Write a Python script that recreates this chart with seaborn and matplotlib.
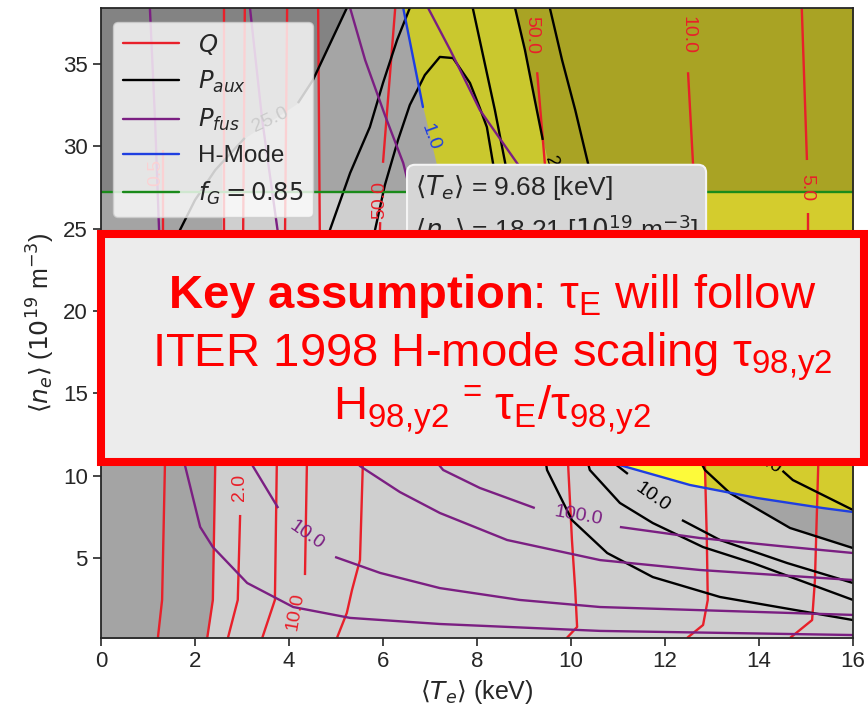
import numpy as np
import matplotlib
matplotlib.use("Agg")
import matplotlib.pyplot as plt
import seaborn as sns
from matplotlib.lines import Line2D
from matplotlib.patches import Rectangle

sns.set_theme(style="ticks")
plt.rcParams["font.family"] = ["Liberation Sans", "DejaVu Sans"]
plt.rcParams["mathtext.fontset"] = "dejavusans"
plt.rcParams["mathtext.rm"] = "Liberation Sans"
plt.rcParams["mathtext.it"] = "Liberation Sans:italic"
plt.rcParams["mathtext.bf"] = "Liberation Sans:bold"

# ---------------- operating point and limits ----------------
te_op = 9.68          # keV
ne_op = 18.21         # 1e19 m^-3
f_G = 0.85
n_greenwald_085 = 27.2  # density of the f_G = 0.85 line

# ---------------- contour polylines (T_e [keV], n_e [1e19 m^-3]) ----------------
q_lines = [
    ([2.62, 2.62], [38.4, 23.0]),
    ([3.06, 3.02], [38.4, 23.0]),
    ([3.96, 3.91], [38.4, 23.0]),
    ([4.62, 4.66], [38.4, 23.0]),
    ([1.32, 1.32], [29.8, 23.0]),
    ([6.26, 6.00], [38.4, 29.0]),
    ([5.94, 5.89], [25.4, 20.7]),
    ([9.28, 9.45, 9.55], [34.5, 28.75, 23.0]),
    ([12.49, 12.60, 12.64], [34.5, 28.75, 23.0]),
    ([14.91, 15.02], [38.4, 29.17]),
    ([15.04, 15.04], [25.95, 20.7]),
    ([1.38, 1.36, 1.30, 1.21], [12.0, 10.6, 2.46, 0.15]),
    ([2.45, 2.43, 2.38, 2.26], [12.0, 10.6, 2.46, 0.15]),
    ([2.96, 2.91, 2.70], [7.62, 2.46, 0.15]),
    ([3.76, 3.74, 3.70, 3.43], [12.0, 10.6, 2.46, 0.15]),
    ([4.38, 4.38, 4.34], [12.0, 10.6, 3.97]),
    ([5.60, 5.57, 5.51, 5.34, 5.23, 5.02], [12.0, 10.6, 4.88, 3.06, 1.67, 0.15]),
    ([9.92, 9.94, 10.02, 10.09, 10.13, 9.91], [12.0, 10.6, 6.10, 3.06, 0.82, 0.15]),
    ([12.84, 12.85, 12.89, 12.91, 12.81, 12.47], [12.0, 10.6, 6.10, 2.46, 0.94, 0.15]),
    ([15.28, 15.26, 15.19, 15.13, 14.66], [12.0, 10.6, 3.67, 1.24, 0.15]),
]
q_labels = [
    (5.94, 26.74, "50.0", 90), (9.17, 36.76, "50.0", -90), (12.49, 36.76, "10.0", -90),
    (15.02, 27.47, "5.0", -90), (2.94, 9.32, "2.0", 90), (4.13, 1.73, "10.0", 80),
    (1.17, 28.4, "0.5", 90),
]

paux_lines = [
    ([5.23, 4.51, 4.19], [38.4, 34.03, 32.63]),
    ([3.06, 2.43, 2.00, 1.68, 1.50], [30.51, 28.56, 26.74, 24.92, 23.0]),
    ([6.57, 6.30, 6.00, 5.72, 5.30, 4.87, 4.70], [38.4, 36.46, 33.85, 31.17, 28.38, 24.92, 23.5]),
    ([5.70, 5.83, 6.04, 6.32, 6.57, 6.89, 7.21, 7.49, 7.85, 8.06, 8.21, 8.34, 8.43, 8.50],
     [23.5, 24.92, 27.65, 30.39, 32.51, 34.33, 35.43, 35.36, 33.85, 32.33, 31.17, 28.99, 27.17, 25.0]),
    ([7.91, 8.15, 8.38, 8.60, 8.75], [38.4, 35.24, 32.21, 28.99, 26.0]),
    ([8.81, 9.02, 9.23, 9.40], [38.4, 35.85, 32.81, 30.39]),
    ([9.55, 9.81, 10.09, 10.36, 10.51, 10.62], [38.4, 35.24, 32.21, 28.99, 27.17, 24.92]),
    ([9.40, 9.49, 10.02, 10.77, 11.74, 13.17, 16.0], [12.0, 10.35, 7.31, 5.31, 3.85, 2.64, 1.24]),
    ([10.25, 10.40, 11.04, 11.74, 12.81, 13.87, 16.0], [12.0, 10.35, 8.35, 7.13, 5.67, 4.70, 2.46]),
    ([10.60, 10.83, 11.21], [12.0, 10.96, 10.11]),
    ([12.36, 13.17, 14.60, 16.0], [7.31, 6.10, 4.70, 3.49]),
    ([12.55, 12.85, 13.38, 14.66, 16.0], [12.0, 10.35, 8.95, 6.83, 5.61]),
    ([14.50, 14.72, 15.36, 16.0], [10.3, 9.74, 8.83, 7.92]),
]
paux_labels = [
    (3.60, 31.6, "25.0", 25), (9.66, 28.26, "20.0", -72),
    (11.74, 8.71, "10.0", -35), (14.19, 10.77, "5.0", -30),
]

pfus_lines = [
    ([5.30, 5.62, 6.04, 6.43, 6.79], [38.4, 35.24, 31.90, 28.99, 24.92]),
    ([6.96, 7.43, 8.06, 8.85, 9.34, 9.80], [38.4, 35.85, 32.21, 28.99, 27.17, 24.5]),
    ([1.04, 1.15, 1.26], [38.4, 31.6, 23.0]),
    ([3.17, 3.43, 3.85], [38.4, 31.6, 23.0]),
    ([1.65, 1.79, 2.11, 2.38, 3.11, 4.09, 5.30, 7.21, 10.62, 16.0],
     [12.0, 10.59, 6.89, 5.67, 3.49, 2.03, 1.37, 1.00, 0.58, 0.33]),
    ([3.00, 3.23, 3.77], [12.0, 10.59, 8.04]),
    ([4.98, 5.94, 7.21, 8.91, 10.62, 16.0], [5.07, 4.10, 3.18, 2.46, 2.03, 1.55]),
    ([5.10, 5.51, 6.36, 7.21, 8.64, 10.62, 12.74, 16.0], [12.0, 10.59, 9.01, 7.74, 6.10, 4.88, 4.28, 3.67]),
    ([6.80, 7.28, 8.06, 9.23], [12.0, 10.35, 9.26, 8.04]),
    ([11.04, 12.74, 14.45, 16.0], [6.89, 6.22, 5.73, 5.31]),
]
pfus_labels = [(4.38, 6.40, "10.0", -35), (10.15, 7.56, "100.0", -10)]

# H-mode threshold (P_aux / P_LH = 1), upper and lower branches, ordered by rising density
hmode_top_T = [7.70, 7.47, 7.32, 7.15, 6.85, 6.43, 6.38]
hmode_top_n = [20.0, 24.32, 26.74, 28.75, 32.39, 38.4, 39.0]
hmode_bot_T = [16.5, 16.0, 15.36, 13.96, 12.53, 11.11, 10.60]
hmode_bot_n = [7.62, 7.80, 8.04, 8.65, 9.44, 10.59, 11.0]
hmode_label = (7.00, 30.57, "1.0", -70)

# shading edges
dark_edge_T = [2.26, 2.38, 2.43, 2.57, 2.57, 3.06, 4.19, 4.51, 5.23, 5.30]
dark_edge_n = [0.15, 2.46, 10.59, 24.92, 29.17, 30.51, 32.63, 34.03, 38.4, 39.0]
divide_top_T = [9.98, 9.77, 9.60, 9.40, 9.23, 9.02, 8.81, 8.79]
divide_top_n = [20.67, 24.92, 27.95, 30.39, 32.81, 35.85, 38.4, 39.0]
divide_bot_T = [12.47, 12.81, 12.91, 12.89, 12.85, 12.83]
divide_bot_n = [0.15, 0.94, 2.46, 6.10, 10.6, 13.0]
lowpaux_T = [12.55, 12.85, 13.38, 14.66, 16.0, 16.5]
lowpaux_n = [12.0, 10.35, 8.95, 6.83, 5.61, 5.2]

RED = "#e8202a"
PURPLE = "#7b1f82"
BLUE = "#1f3fe0"
GREEN = "#1a8a1a"
LIGHT = "#cfcfcf"
DARK = "#a4a4a4"
YEL_BRIGHT = "#fdfa3a"
YEL_DULL = "#d4cc2d"

fig = plt.figure(figsize=(8.68, 7.19), dpi=100)
fig.patch.set_facecolor("white")
ax = fig.add_axes([0.11636, 0.11266, 0.86636, 0.87621])
ax.set_facecolor(LIGHT)

# ---------------- shaded regions ----------------
n_all = np.linspace(0.0, 39.5, 900)
ax.fill_betweenx(n_all, -1, np.interp(n_all, dark_edge_n, dark_edge_T), color=DARK, lw=0, zorder=1)

n_top = np.linspace(18, 39.5, 500)
hm_T = np.interp(n_top, hmode_top_n, hmode_top_T)
dv_T = np.interp(n_top, divide_top_n, divide_top_T)
ax.fill_betweenx(n_top, hm_T, dv_T, color=YEL_BRIGHT, lw=0, zorder=1)
ax.fill_betweenx(n_top, dv_T, 17, color=YEL_DULL, lw=0, zorder=1)

n_bot = np.linspace(5, 13, 500)
hb_T = np.interp(n_bot, hmode_bot_n, hmode_bot_T)
db_T = np.interp(n_bot, divide_bot_n, divide_bot_T)
ax.fill_betweenx(n_bot, hb_T, db_T, where=hb_T < db_T, color=YEL_BRIGHT, lw=0, zorder=1)
ax.fill_betweenx(n_bot, np.maximum(hb_T, db_T), 17, where=n_bot > hmode_bot_n[0],
                 color=YEL_DULL, lw=0, zorder=1)
T_bot = np.linspace(12, 16.5, 400)
hb_n = np.interp(T_bot, hmode_bot_T[::-1], hmode_bot_n[::-1])
lp_n = np.interp(T_bot, lowpaux_T, lowpaux_n)
ax.fill_between(T_bot, lp_n, hb_n, where=hb_n > lp_n, color=DARK, lw=0, zorder=1)

# density above the Greenwald fraction is dimmed
ax.axhspan(n_greenwald_085, 40, color="black", alpha=0.2, lw=0, zorder=1.5)

# ---------------- contour lines ----------------
def draw(lines, labels, color):
    for T, n in lines:
        ax.plot(T, n, color=color, lw=1.7, zorder=2, solid_capstyle="butt")
    for T, n, s, rot in labels:
        ax.text(T, n, s, color=color, fontsize=14, rotation=rot, ha="center", va="center",
                rotation_mode="anchor", zorder=3)

draw(q_lines, q_labels, RED)
draw(paux_lines, paux_labels, "black")
draw(pfus_lines, pfus_labels, PURPLE)
ax.plot([6.38, 6.43, 6.85], [39.0, 38.4, 32.39], color=BLUE, lw=1.7, zorder=2)
ax.plot(hmode_top_T[:4], hmode_top_n[:4], color=BLUE, lw=1.7, zorder=2)
ax.plot(hmode_bot_T, hmode_bot_n, color=BLUE, lw=1.7, zorder=2)
ax.text(hmode_label[0], hmode_label[1], hmode_label[2], color=BLUE, fontsize=14,
        rotation=hmode_label[3], ha="center", va="center", rotation_mode="anchor", zorder=3)
ax.axhline(n_greenwald_085, color=GREEN, lw=1.7, zorder=2.5)

ax.set_xlim(0, 16)
ax.set_ylim(0.15, 38.4)
ax.set_xticks(np.arange(0, 17, 2))
ax.set_yticks(np.arange(5, 36, 5))
ax.tick_params(labelsize=16, length=6, width=1.2, colors="#262626")
for sp in ax.spines.values():
    sp.set_color("#262626")
    sp.set_linewidth(1.3)
    sp.set_zorder(4)
ax.set_xlabel(r"$\langle T_e\rangle$ (keV)", fontsize=18, color="#262626")
ax.set_ylabel(r"$\langle n_e\rangle$ ($10^{19}$ m$^{-3}$)", fontsize=18, color="#262626")

handles = [Line2D([], [], color=c, lw=1.7) for c in (RED, "black", PURPLE, BLUE, GREEN)]
labels = [r"$Q$", r"$P_{aux}$", r"$P_{fus}$", "H-Mode", rf"$f_G = {f_G}$"]
leg = ax.legend(handles, labels, loc="upper left", bbox_to_anchor=(0.016, 0.978),
                borderaxespad=0, fontsize=17.5, framealpha=0.8, handlelength=2.3)
leg.set_zorder(5)

ax.text(6.68, 28.4,
        rf"$\langle T_e\rangle$ = {te_op} [keV]" + "\n" + rf"$\langle n_e\rangle$ = {ne_op} [$10^{{19}}$ m$^{{-3}}$]",
        fontsize=19, va="top", ha="left", color="#262626", zorder=6, linespacing=1.4,
        bbox=dict(boxstyle="round,pad=0.3", fc="#d6d6d6", ec="#f4f4f4", lw=1.5))

# ---------------- call-out box ----------------
fig.add_artist(Rectangle((0.1164, 0.3574), 0.879, 0.3171, transform=fig.transFigure,
                         fc="#ececec", ec="#ff0000", lw=5.8, zorder=10))
kw = dict(ha="center", va="baseline", color="#ff0000", fontsize=34, math_fontfamily="custom", zorder=11)
fig.text(0.567, 0.5716, r"$\mathbf{Key\ assumption}$: $\mathrm{τ}_\mathrm{E}$ will follow", **kw)
fig.text(0.567, 0.4896, r"ITER 1998 H-mode scaling $\mathrm{τ}_\mathrm{98{,}y2}$", **kw)
fig.text(0.567, 0.4159,
         r"$\mathrm{H}_\mathrm{98{,}y2}\,{}^{=}\,\mathrm{τ}_\mathrm{E}/\mathrm{τ}_\mathrm{98{,}y2}$", **kw)

fig.savefig("out.png", dpi=100)
